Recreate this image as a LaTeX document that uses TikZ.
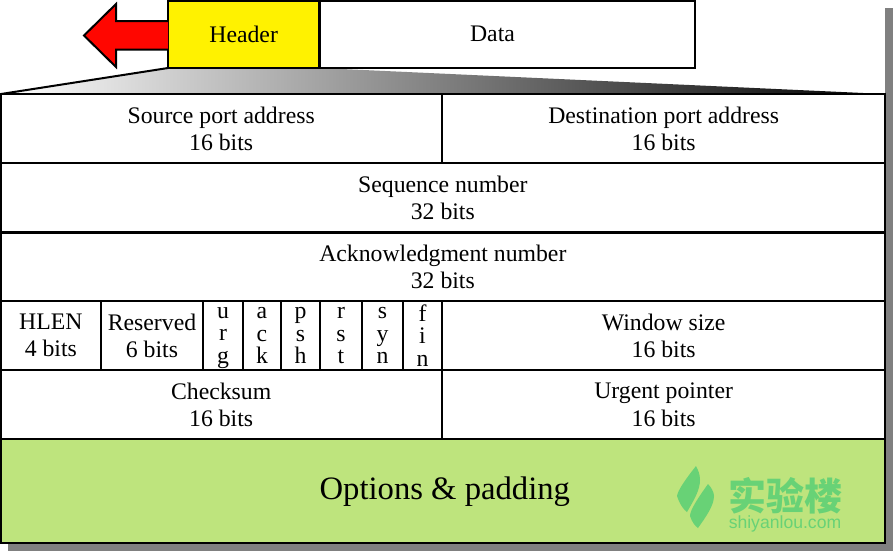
\documentclass[tikz,border=0pt]{standalone}
\usepackage{xcolor}
\usepackage{fontspec}
\setmainfont{Liberation Serif}
\setsansfont{Liberation Sans}
\newfontfamily\cjkfont{Noto Sans CJK SC}
\usetikzlibrary{positioning, shadings}
\definecolor{optgreen}{RGB}{190,228,125}
\definecolor{markgreen}{RGB}{104,210,118}
\definecolor{shadowgray}{RGB}{128,128,128}
\tikzset{
  field/.style={draw=black, line width=1.5pt, fill=white, anchor=north west, inner sep=0pt, outer sep=0pt,
    align=center, font=\fontsize{17.8}{20.5}\selectfont, text depth=-1.5pt},
  flag/.style={field, font=\fontsize{17.8}{16.8}\selectfont, minimum height=51.75pt},
  row/.style={field, minimum height=51.75pt}
}
\begin{document}
\begin{tikzpicture}[x=0.75pt, y=-0.75pt]
  \useasboundingbox (0, 0) rectangle (893, 551);

  % Drop shadow
  \fill[shadowgray] (8, 543) rectangle (893, 551);
  \fill[shadowgray] (885, 8) rectangle (893, 551);

  % Segment on top
  \coordinate (fanleft) at (1, 94);
  \coordinate (fanright) at (885, 94);
  \coordinate (fanhead) at (168, 68);
  \coordinate (fandata) at (320, 68);
  \shade[left color=white, right color=black] (fanhead) -- (fanleft) -- (fanright) -- (fandata) -- cycle;
  \draw[line width=1.5pt] (fanleft) -- (fanhead);

  \node[field, fill=yellow, minimum width=113.5pt, minimum height=50.5pt] (header) at (168, 0.5) {Header};
  \node[field, minimum width=281.5pt, minimum height=50.5pt] (data) at (319.5, 0.5) {Data\hspace{22pt}};
  \draw[line width=1.5pt, fill=red!95!orange] (header.west |- 0, 21) -- (116, 21) -- (116, 4) -- (84, 35.5)
     -- (116, 67) -- (116, 49.5) -- (header.west |- 0, 49.5);

  % Row 1
  \node[row, minimum width=331pt] (srcport) at (0.5, 94) {Source port address\\16 bits};
  \node[row, minimum width=332.5pt] (dstport) at (442, 94) {Destination port address\\16 bits};
  % Row 2
  \node[row, minimum width=663.5pt] (seqnum) at (0.5, 163) {Sequence number\\32 bits};
  % Row 3
  \node[row, minimum width=663.5pt] (acknum) at (0.5, 232.5) {Acknowledgment number\\32 bits};
  % Row 4
  \node[row, minimum width=75.5pt] (hlen) at (0.5, 301) {HLEN\\4 bits};
  \node[row, minimum width=76.5pt] (reserved) at (101, 301) {Reserved\\6 bits};
  \node[flag, minimum width=30pt] (urg) at (203, 301) {u\\r\\g};
  \node[flag, minimum width=28.5pt] (ack) at (243, 301) {a\\c\\k};
  \node[flag, minimum width=29.25pt] (psh) at (281, 301) {p\\s\\h};
  \node[flag, minimum width=31.5pt] (rst) at (320, 301) {r\\s\\t};
  \node[flag, minimum width=30.75pt] (syn) at (362, 301) {s\\y\\n};
  \node[flag, minimum width=29.25pt] (fin) at (403, 301) {f\\i\\n};
  \node[row, minimum width=332.5pt] (window) at (442, 301) {Window size\\16 bits};
  % Row 5
  \node[row, minimum width=331pt] (checksum) at (0.5, 370) {Checksum\\16 bits};
  \node[row, minimum width=332.5pt] (urgent) at (442, 370) {Urgent pointer\\16 bits};
  % Row 6
  \node[field, fill=optgreen, minimum width=663.5pt, minimum height=78pt, font=\fontsize{24.5}{28}\selectfont, text depth=5pt] (options) at (0.5, 439) {\hspace*{3pt}Options \& padding};

  % Watermark
  \fill[markgreen] (696, 466) .. controls (685, 480) and (678, 490) .. (677, 496) .. controls (680, 505) and (684, 510) .. (687, 512) .. controls (694, 500) and (700, 490) .. (700, 480) .. controls (700, 474) and (698, 470) .. (696, 466) -- cycle;
  \fill[markgreen] (708, 484) .. controls (698, 498) and (690, 510) .. (690, 516) .. controls (692, 522) and (695, 526) .. (698, 528) .. controls (705, 518) and (714, 506) .. (714, 496) .. controls (714, 492) and (711, 487) .. (708, 484) -- cycle;
  \node[text=markgreen, font=\cjkfont\fontsize{28.5}{28.5}\selectfont\bfseries, inner sep=0pt] (marktext) at (785, 496) {实验楼};
  \node[text=markgreen, font=\sffamily\fontsize{13.2}{13.2}\selectfont, inner sep=0pt, below=1pt of marktext] (markurl) {shiyanlou.com};
\end{tikzpicture}
\end{document}
